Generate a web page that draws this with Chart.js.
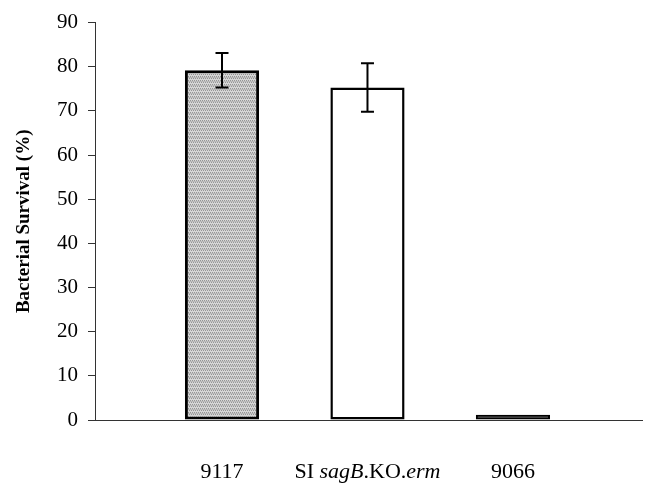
<!DOCTYPE html>
<html>
<head>
<meta charset="utf-8">
<script src="https://cdn.jsdelivr.net/npm/chart.js@4"></script>
<style>
  body { margin: 0; background: #fff; }
  #wrap { width: 647px; height: 486px; }
</style>
</head>
<body>
<div id="wrap"><canvas id="survival"></canvas></div>
<script>
// data
var categories = ["9117", "SI <i>sagB</i>.KO.<i>erm</i>", "9066"];
var survival = [79.2, 75.3, 1.2];
var errors = [3.9, 5.5, 0];
var yTicks = [0, 10, 20, 30, 40, 50, 60, 70, 80, 90];

// stippled gray fill of the first bar
function stipple() {
  var c = document.createElement("canvas");
  c.width = 4; c.height = 4;
  var g = c.getContext("2d");
  g.fillStyle = "#d6d6d6";
  g.fillRect(0, 0, 4, 4);
  g.fillStyle = "#959595";
  g.fillRect(0, 0, 1, 1); g.fillRect(2, 0, 1, 1);
  g.fillRect(1, 2, 1, 1); g.fillRect(3, 2, 1, 1);
  g.fillStyle = "#b8b8b8";
  g.fillRect(0, 1, 4, 1);
  return g.createPattern(c, "repeat");
}

var errorBars = {
  id: "errorBars",
  afterDatasetsDraw: function (chart) {
    var ctx = chart.ctx, y = chart.scales.y;
    var meta = chart.getDatasetMeta(0);
    ctx.save();
    ctx.strokeStyle = "#000";
    ctx.lineWidth = 2;
    meta.data.forEach(function (bar, i) {
      if (!errors[i]) return;
      var top = y.getPixelForValue(survival[i] + errors[i]);
      var bot = y.getPixelForValue(survival[i] - errors[i]);
      ctx.beginPath();
      ctx.moveTo(bar.x, top); ctx.lineTo(bar.x, bot);
      ctx.moveTo(bar.x - 6.5, top); ctx.lineTo(bar.x + 6.5, top);
      ctx.moveTo(bar.x - 6.5, bot); ctx.lineTo(bar.x + 6.5, bot);
      ctx.stroke();
    });
    ctx.restore();
  }
};

// category labels with italic parts, well below the axis
var catLabels = {
  id: "catLabels",
  afterDraw: function (chart) {
    var ctx = chart.ctx, x = chart.scales.x;
    var base = chart.chartArea.bottom + 58;
    ctx.save();
    ctx.fillStyle = "#000";
    ctx.textBaseline = "alphabetic";
    categories.forEach(function (lab, i) {
      var parts = lab.split(/(<i>.*?<\/i>)/).filter(function (s) { return s; });
      var segs = parts.map(function (s) {
        var it = s.indexOf("<i>") === 0;
        return { t: it ? s.slice(3, -4) : s, f: (it ? "italic " : "") + "22px 'Liberation Serif'" };
      });
      var w = 0;
      segs.forEach(function (s) { ctx.font = s.f; s.w = ctx.measureText(s.t).width; w += s.w; });
      var cx = x.getPixelForValue(i + 1) - w / 2;
      segs.forEach(function (s) {
        ctx.font = s.f;
        ctx.textAlign = "left";
        ctx.fillText(s.t, cx, base);
        cx += s.w;
      });
    });
    ctx.restore();
  }
};

var ctx = document.getElementById("survival").getContext("2d");
var chart = new Chart(ctx, {
  type: "bar",
  data: {
    datasets: [
      {
        data: survival.map(function (v, i) { return { x: i + 1, y: v }; }),
        backgroundColor: [stipple(), "#ffffff", "#000000"],
        borderColor: "#000000",
        borderWidth: [3, 2.5, 2],
        borderSkipped: false,
        barPercentage: 0.51,
        categoryPercentage: 1,
      },
    ],
  },
  options: {
    responsive: true,
    maintainAspectRatio: false,
    animation: false,
    layout: { padding: { top: 21, right: 5, bottom: 66, left: 0 } },
    plugins: {
      legend: { display: false },
      tooltip: { enabled: false },
    },
    scales: {
      x: {
        type: "linear",
        min: 0.127,
        max: 3.887,
        offset: false,
        afterBuildTicks: function (s) { s.ticks = categories.map(function (c, i) { return { value: i + 1 }; }); },
        ticks: { display: false },
        grid: { drawOnChartArea: false, drawTicks: false },
        border: { display: true, color: "#333", width: 1 },
      },
      y: {
        min: 0,
        max: 90,
        afterBuildTicks: function (s) { s.ticks = yTicks.map(function (v) { return { value: v }; }); },
        afterFit: function (s) { s.width = 95; },
        ticks: { color: "#000", padding: 10, font: { family: "'Liberation Serif'", size: 21 } },
        grid: { drawOnChartArea: false, tickLength: 7, tickColor: "#333" },
        border: { display: true, color: "#333", width: 1 },
        title: {
          display: true,
          text: "Bacterial Survival (%)",
          color: "#000",
          padding: { top: 13, bottom: 0 },
          font: { family: "'Liberation Serif'", size: 19, weight: "bold" },
        },
      },
    },
  },
  plugins: [errorBars, catLabels],
});
</script>
</body>
</html>
